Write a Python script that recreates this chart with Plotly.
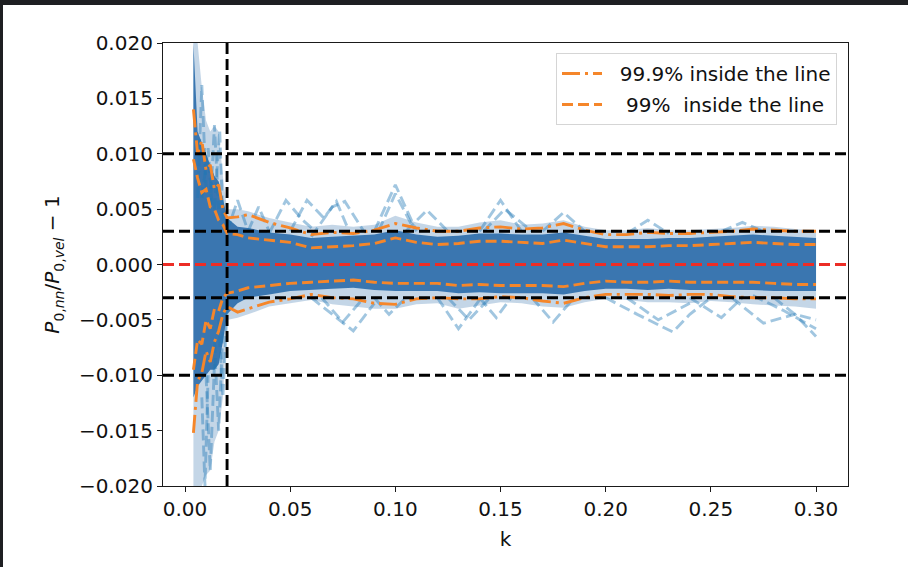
import plotly.graph_objects as go

# ---------------- data ----------------
k = [0.004, 0.006, 0.008, 0.010, 0.012, 0.014, 0.016, 0.018, 0.020, 0.025,
     0.030, 0.040, 0.050, 0.060, 0.070, 0.080, 0.090, 0.100, 0.110, 0.120,
     0.130, 0.140, 0.150, 0.160, 0.170, 0.180, 0.190, 0.200, 0.210, 0.220,
     0.230, 0.240, 0.250, 0.260, 0.270, 0.280, 0.290, 0.300]

# 99.9 % envelope (dash-dot)
up999 = [0.0140, 0.0100, 0.0112, 0.0085, 0.0090, 0.0068, 0.0072, 0.0050, 0.0042, 0.0043,
         0.0045, 0.0038, 0.0033, 0.0027, 0.0029, 0.0028, 0.0031, 0.0037, 0.0033, 0.0030,
         0.0030, 0.0033, 0.0034, 0.0032, 0.0033, 0.0037, 0.0031, 0.0027, 0.0027, 0.0029,
         0.0028, 0.0028, 0.0029, 0.0030, 0.0032, 0.0031, 0.0030, 0.0030]
lo999 = [-0.0152, -0.0105, -0.0098, -0.0078, -0.0088, -0.0070, -0.0060, -0.0045, -0.0038, -0.0043,
         -0.0040, -0.0034, -0.0031, -0.0027, -0.0030, -0.0031, -0.0035, -0.0036, -0.0031, -0.0030,
         -0.0031, -0.0031, -0.0029, -0.0030, -0.0033, -0.0035, -0.0030, -0.0027, -0.0027, -0.0027,
         -0.0028, -0.0027, -0.0027, -0.0029, -0.0030, -0.0030, -0.0031, -0.0031]
# 99 % envelope (dashed)
up99 = [0.0095, 0.0078, 0.0065, 0.0068, 0.0052, 0.0050, 0.0040, 0.0036, 0.0028, 0.0027,
        0.0024, 0.0022, 0.0020, 0.0015, 0.0016, 0.0017, 0.0019, 0.0024, 0.0020, 0.0018,
        0.0019, 0.0021, 0.0021, 0.0020, 0.0019, 0.0022, 0.0019, 0.0016, 0.0016, 0.0016,
        0.0017, 0.0017, 0.0018, 0.0019, 0.0020, 0.0019, 0.0018, 0.0018]
lo99 = [-0.0095, -0.0068, -0.0072, -0.0050, -0.0058, -0.0040, -0.0042, -0.0030, -0.0026, -0.0024,
        -0.0021, -0.0019, -0.0017, -0.0016, -0.0015, -0.0014, -0.0016, -0.0017, -0.0017, -0.0017,
        -0.0019, -0.0018, -0.0019, -0.0019, -0.0019, -0.0020, -0.0017, -0.0015, -0.0016, -0.0016,
        -0.0015, -0.0016, -0.0016, -0.0016, -0.0016, -0.0017, -0.0018, -0.0018]

# dense core of the individual realisations (solid blue)
core_up = [0.0200, 0.0120, 0.0110, 0.0100, 0.0090, 0.0080, 0.0075, 0.0060, 0.0042, 0.0034,
           0.0033, 0.0029, 0.0027, 0.0024, 0.0025, 0.0026, 0.0027, 0.0031, 0.0027, 0.0025,
           0.0026, 0.0028, 0.0028, 0.0027, 0.0027, 0.0029, 0.0026, 0.0023, 0.0023, 0.0023,
           0.0024, 0.0024, 0.0025, 0.0026, 0.0027, 0.0026, 0.0025, 0.0024]
core_lo = [-0.0120, -0.0110, -0.0105, -0.0100, -0.0095, -0.0095, -0.0090, -0.0070, -0.0045, -0.0035,
           -0.0030, -0.0027, -0.0024, -0.0023, -0.0022, -0.0021, -0.0023, -0.0024, -0.0024, -0.0024,
           -0.0026, -0.0025, -0.0026, -0.0026, -0.0026, -0.0027, -0.0024, -0.0022, -0.0022, -0.0023,
           -0.0022, -0.0023, -0.0023, -0.0023, -0.0023, -0.0024, -0.0024, -0.0024]
# fainter fringe of the realisations
halo_up = [0.0200, 0.0200, 0.0160, 0.0130, 0.0120, 0.0125, 0.0120, 0.0080, 0.0050, 0.0050,
           0.0048, 0.0042, 0.0038, 0.0034, 0.0036, 0.0034, 0.0036, 0.0044, 0.0038, 0.0034,
           0.0034, 0.0038, 0.0040, 0.0036, 0.0037, 0.0040, 0.0034, 0.0031, 0.0031, 0.0033,
           0.0031, 0.0031, 0.0032, 0.0033, 0.0035, 0.0034, 0.0032, 0.0031]
halo_lo = [-0.0200, -0.0200, -0.0200, -0.0190, -0.0186, -0.0160, -0.0150, -0.0120, -0.0050, -0.0048,
           -0.0045, -0.0038, -0.0035, -0.0032, -0.0036, -0.0038, -0.0040, -0.0040, -0.0036, -0.0035,
           -0.0040, -0.0037, -0.0034, -0.0035, -0.0038, -0.0039, -0.0034, -0.0031, -0.0032, -0.0034,
           -0.0034, -0.0035, -0.0033, -0.0034, -0.0036, -0.0037, -0.0038, -0.0040]

# individual outlying realisations (k, value)
outlier_k = [
    [0.006, 0.008, 0.010], [0.012, 0.014, 0.016], [0.014, 0.0165, 0.018], [0.008, 0.011, 0.013],
    [0.008, 0.0095, 0.011], [0.010, 0.012, 0.014], [0.014, 0.016, 0.018], [0.016, 0.018, 0.020],
    [0.020, 0.025, 0.030], [0.030, 0.035, 0.040], [0.040, 0.048, 0.056, 0.062],
    [0.050, 0.058, 0.066, 0.072, 0.078], [0.060, 0.070, 0.076, 0.085],
    [0.090, 0.100, 0.110], [0.092, 0.100, 0.108], [0.105, 0.115, 0.125],
    [0.140, 0.150, 0.160], [0.142, 0.152, 0.165], [0.170, 0.180, 0.190], [0.210, 0.220, 0.230],
    [0.255, 0.265, 0.275],
    [0.060, 0.070, 0.080, 0.090], [0.065, 0.075, 0.085], [0.090, 0.097, 0.105],
    [0.120, 0.130, 0.140], [0.125, 0.135, 0.145], [0.140, 0.148, 0.155], [0.165, 0.175, 0.185],
    [0.200, 0.215, 0.232, 0.240, 0.250], [0.210, 0.225, 0.240], [0.240, 0.255, 0.265],
    [0.260, 0.275, 0.290, 0.300], [0.270, 0.285, 0.300], [0.280, 0.290, 0.300],
]
outlier_v = [
    [0.0060, 0.0162, 0.0070], [0.0050, 0.0126, 0.0050], [0.0050, 0.0121, 0.0040], [0.0060, 0.0105, 0.0050],
    [-0.0120, -0.0200, -0.0100], [-0.0100, -0.0186, -0.0090], [-0.0070, -0.0150, -0.0060], [-0.0050, -0.0120, -0.0040],
    [0.0030, 0.0058, 0.0030], [0.0030, 0.0052, 0.0030], [0.0028, 0.0058, 0.0040, 0.0030],
    [0.0030, 0.0058, 0.0042, 0.0057, 0.0030], [0.0025, 0.0052, 0.0057, 0.0030],
    [0.0030, 0.0072, 0.0030], [0.0030, 0.0064, 0.0035], [0.0030, 0.0049, 0.0030],
    [0.0030, 0.0058, 0.0030], [0.0030, 0.0050, 0.0030], [0.0030, 0.0047, 0.0030], [0.0028, 0.0040, 0.0028],
    [0.0030, 0.0038, 0.0030],
    [-0.0030, -0.0045, -0.0060, -0.0035], [-0.0030, -0.0052, -0.0030], [-0.0030, -0.0045, -0.0030],
    [-0.0030, -0.0058, -0.0032], [-0.0030, -0.0050, -0.0030], [-0.0030, -0.0048, -0.0030], [-0.0030, -0.0052, -0.0030],
    [-0.0030, -0.0045, -0.0061, -0.0045, -0.0030], [-0.0030, -0.0050, -0.0035], [-0.0030, -0.0048, -0.0030],
    [-0.0030, -0.0053, -0.0045, -0.0065], [-0.0028, -0.0042, -0.0058], [-0.0030, -0.0045, -0.0050],
]

ref_levels = [0.01, 0.003, -0.003, -0.01]   # black dashed horizontal lines
zero_level = 0.0                             # red dashed line
k_cut = 0.02                                 # black dashed vertical line

xticks = [0.00, 0.05, 0.10, 0.15, 0.20, 0.25, 0.30]
xtick_labels = ["0.00", "0.05", "0.10", "0.15", "0.20", "0.25", "0.30"]
yticks = [0.020, 0.015, 0.010, 0.005, 0.000, -0.005, -0.010, -0.015, -0.020]
ytick_labels = ["0.020", "0.015", "0.010", "0.005", "0.000",
                "\u22120.005", "\u22120.010", "\u22120.015", "\u22120.020"]

legend_999 = "\u00a0\u00a099.9% inside the line"
legend_99 = "\u00a0\u00a0\u00a099%\u00a0 inside the line"

# ---------------- styling ----------------
W, H = 908, 567
ML, MR, MT, MB = 163, 60, 43, 81
PW, PH = W - ML - MR, H - MT - MB
FONT = "DejaVu Sans"
FS = 20
BLUE = "#3a76b0"
ORANGE = "#f5862a"
LW = 2.9
DASH = "11px,5px"
DASHDOT = "18px,5px,3px,5px"

fig = go.Figure()

fig.add_trace(go.Scatter(
    x=k + k[::-1], y=halo_up + halo_lo[::-1], mode="lines", fill="toself",
    fillcolor="rgba(58,118,176,0.30)", line=dict(width=0), showlegend=False, hoverinfo="skip"))
fig.add_trace(go.Scatter(
    x=k + k[::-1], y=core_up + core_lo[::-1], mode="lines", fill="toself",
    fillcolor=BLUE, line=dict(width=0), showlegend=False, hoverinfo="skip"))

for xs, ys in zip(outlier_k, outlier_v):
    fig.add_trace(go.Scatter(
        x=xs, y=ys, mode="lines", showlegend=False, hoverinfo="skip",
        line=dict(color="rgba(31,119,180,0.42)", width=LW, dash=DASH)))

fig.add_trace(go.Scatter(x=k, y=up999, mode="lines", name=legend_999, legendgroup="a",
                         line=dict(color=ORANGE, width=LW, dash=DASHDOT)))
fig.add_trace(go.Scatter(x=k, y=lo999, mode="lines", name=legend_999, legendgroup="a",
                         showlegend=False, line=dict(color=ORANGE, width=LW, dash=DASHDOT)))
fig.add_trace(go.Scatter(x=k, y=up99, mode="lines", name=legend_99, legendgroup="b",
                         line=dict(color=ORANGE, width=LW, dash=DASH)))
fig.add_trace(go.Scatter(x=k, y=lo99, mode="lines", name=legend_99, legendgroup="b",
                         showlegend=False, line=dict(color=ORANGE, width=LW, dash=DASH)))

shapes = []
shapes.append(dict(type="line", xref="paper", yref="y", x0=0, x1=1, y0=zero_level, y1=zero_level,
                   line=dict(color="#ec2d26", width=LW, dash=DASH), layer="above"))
for lv in ref_levels:
    shapes.append(dict(type="line", xref="paper", yref="y", x0=0, x1=1, y0=lv, y1=lv,
                       line=dict(color="black", width=LW, dash=DASH), layer="above"))
shapes.append(dict(type="line", xref="x", yref="paper", x0=k_cut, x1=k_cut, y0=0, y1=1,
                   line=dict(color="black", width=LW, dash=DASH), layer="above"))
# dark screenshot frame (top and left strips)
shapes.append(dict(type="rect", xref="paper", yref="paper", x0=-ML / PW, x1=(W - ML) / PW,
                   y0=(PH + MT - 5) / PH, y1=(PH + MT) / PH, fillcolor="#1e1f22",
                   line=dict(width=0), layer="below"))
shapes.append(dict(type="rect", xref="paper", yref="paper", x0=-ML / PW, x1=(3 - ML) / PW,
                   y0=-MB / PH, y1=(PH + MT) / PH, fillcolor="#1e1f22",
                   line=dict(width=0), layer="below"))

axis_common = dict(showgrid=False, zeroline=False, showline=True, mirror=True,
                   linecolor="#1a1a1a", linewidth=1.2, ticks="outside", ticklen=5,
                   tickwidth=1.1, tickcolor="#1a1a1a",
                   tickfont=dict(family=FONT, size=FS, color="#111"))

fig.update_layout(
    width=W, height=H, margin=dict(l=ML, r=MR, t=MT, b=MB, autoexpand=False),
    paper_bgcolor="white", plot_bgcolor="white",
    font=dict(family=FONT, size=FS, color="#111"),
    shapes=shapes,
    showlegend=True,
    legend=dict(x=1 - 11 / PW, y=1 - 10 / PH, xanchor="right", yanchor="top",
                bgcolor="rgba(255,255,255,0.85)", bordercolor="#d5d5d5", borderwidth=1,
                itemwidth=40,
                font=dict(family=FONT, size=FS, color="#111"), tracegroupgap=2),
    xaxis=dict(range=[-0.01046, 0.3152], tickvals=xticks, ticktext=xtick_labels,
               title=dict(text="k", standoff=11, font=dict(family=FONT, size=FS, color="#111")),
               **axis_common),
    yaxis=dict(range=[-0.02, 0.02], tickvals=yticks, ticktext=ytick_labels,
               title=dict(text="<i>P</i><sub>0,<i>nn</i></sub>/<i>P</i><sub>0,<i>vel</i></sub> \u2212 1",
                          standoff=13, font=dict(family=FONT, size=FS, color="#111")),
               **axis_common),
)

fig.write_html("out.html")
